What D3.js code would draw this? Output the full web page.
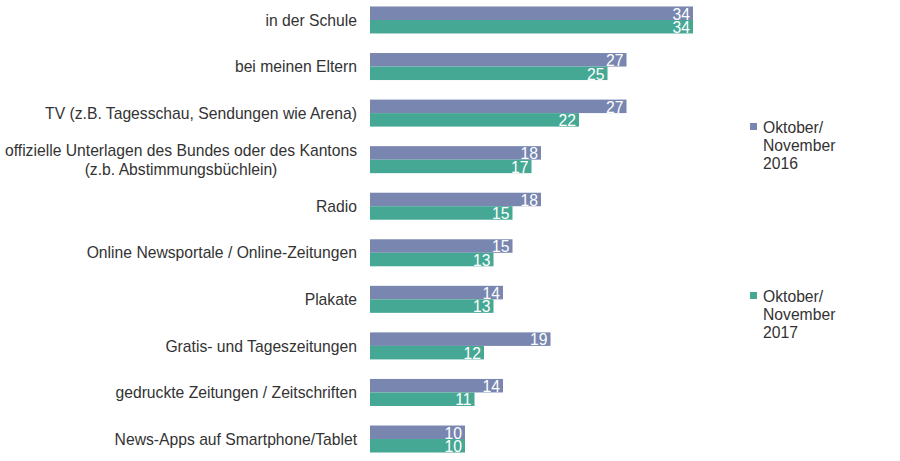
<!DOCTYPE html>
<html>
<head>
<meta charset="utf-8">
<script src="https://cdn.jsdelivr.net/npm/d3@7"></script>
<style>
  body { margin: 0; background: #fff; }
  svg { font-family: "Liberation Sans", Arial, sans-serif; }
</style>
</head>
<body>
<div id="chart"></div>
<script>
// Data
const categories = [
  "in der Schule",
  "bei meinen Eltern",
  "TV (z.B. Tagesschau, Sendungen wie Arena)",
  "offizielle Unterlagen des Bundes oder des Kantons|(z.b. Abstimmungsbüchlein)",
  "Radio",
  "Online Newsportale / Online-Zeitungen",
  "Plakate",
  "Gratis- und Tageszeitungen",
  "gedruckte Zeitungen / Zeitschriften",
  "News-Apps auf Smartphone/Tablet"
];
const values2016 = [34, 27, 27, 18, 18, 15, 14, 19, 14, 10];
const values2017 = [34, 25, 22, 17, 15, 13, 13, 12, 11, 10];
const seriesNames = ["Oktober/|November|2016", "Oktober/|November|2017"];
const colors = ["#7886b0", "#45a895"];

const width = 900, height = 461;
const fontSize = 15.7;
const svg = d3.select("#chart").append("svg")
  .attr("width", width)
  .attr("height", height);

const x = d3.scaleLinear().domain([0, 34]).range([370, 693]);
const y = d3.scaleBand().domain(categories).range([-3.3, 462.3]).paddingInner(0.42).paddingOuter(0.21);
const sub = d3.scaleBand().domain([0, 1]).range([0, y.bandwidth()]);

const series = [values2016, values2017];

// bars
categories.forEach((c, i) => {
  const g = svg.append("g").attr("transform", `translate(0,${y(c)})`);
  series.forEach((vals, s) => {
    g.append("rect")
      .attr("x", x(0))
      .attr("y", sub(s))
      .attr("width", x(vals[i]) - x(0))
      .attr("height", sub.bandwidth())
      .attr("fill", colors[s]);
    g.append("text")
      .attr("x", x(vals[i]) - 3)
      .attr("y", sub(s) + sub.bandwidth() / 2)
      .attr("dy", "0.4em")
      .attr("text-anchor", "end")
      .attr("fill", "#fff")
      .attr("font-size", fontSize)
      .text(vals[i]);
  });

  // category labels
  const lines = c.split("|");
  const multi = lines.length > 1;
  const t = svg.append("text")
    .attr("x", 357)
    .attr("y", y(c) + y.bandwidth() / 2)
    .attr("text-anchor", multi ? "middle" : "end")
    .attr("fill", "#333")
    .attr("font-size", fontSize);
  lines.forEach((l, k) => {
    t.append("tspan")
      .attr("x", multi ? 181 : 357)
      .attr("dy", k === 0 ? (multi ? "-0.25em" : "0.36em") : "1.2em")
      .text(l);
  });
});

// legend
const legendY = [127, 296];
seriesNames.forEach((name, s) => {
  svg.append("rect")
    .attr("x", 750)
    .attr("y", legendY[s] - 4)
    .attr("width", 7)
    .attr("height", 7)
    .attr("fill", colors[s]);
  const t = svg.append("text")
    .attr("x", 763)
    .attr("y", legendY[s])
    .attr("fill", "#333")
    .attr("font-size", fontSize);
  name.split("|").forEach((l, k) => {
    t.append("tspan")
      .attr("x", 763)
      .attr("dy", k === 0 ? "0.36em" : "1.15em")
      .text(l);
  });
});
</script>
</body>
</html>
